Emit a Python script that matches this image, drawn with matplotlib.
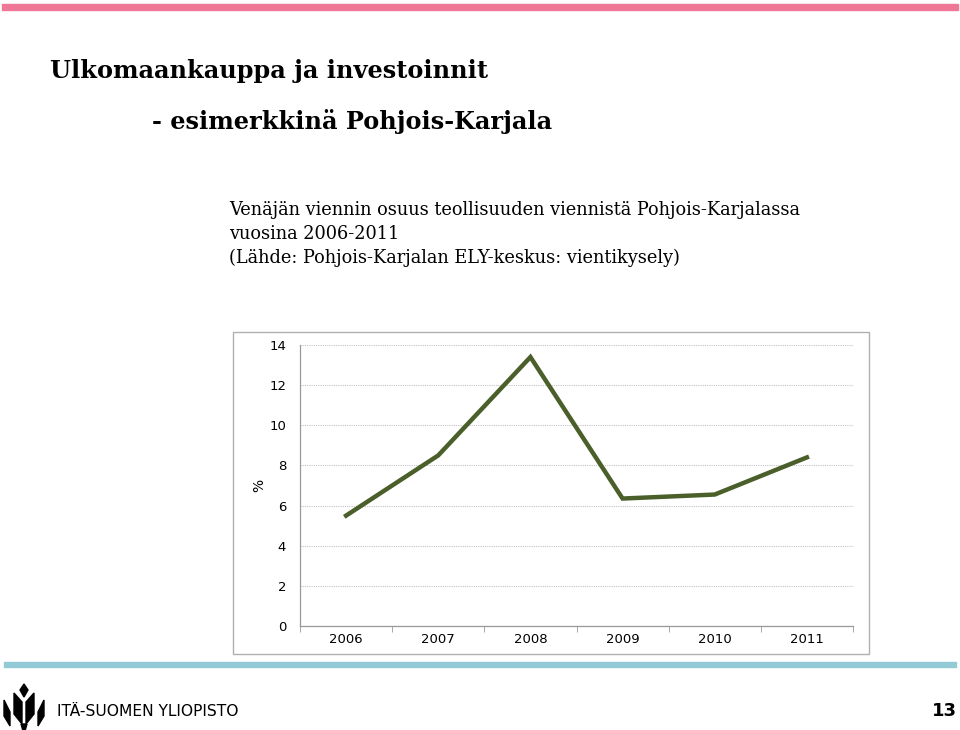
import matplotlib
matplotlib.use("Agg")
import matplotlib.pyplot as plt
import matplotlib.patches as mpatches

# ─── Data ──────────────────────────────────────────────────────────────────────

years = ["2006", "2007", "2008", "2009", "2010", "2011"]
share = [5.5, 8.5, 13.4, 6.35, 6.55, 8.4]
y_ticks = [0, 2, 4, 6, 8, 10, 12, 14]

title_1 = "Ulkomaankauppa ja investoinnit"
title_2 = "- esimerkkinä Pohjois-Karjala"
sub_lines = [
    "Venäjän viennin osuus teollisuuden viennistä Pohjois-Karjalassa",
    "vuosina 2006-2011",
    "(Lähde: Pohjois-Karjalan ELY-keskus: vientikysely)",
]

# ─── Figure ────────────────────────────────────────────────────────────────────

W, H = 960, 730
fig = plt.figure(figsize=(W / 100, H / 100), dpi=100)
fig.patch.set_facecolor("white")

def fx(px): return px / W
def fy(py): return 1 - py / H

# decorative bars
fig.patches.append(mpatches.Rectangle((fx(2), fy(10)), fx(956), 6 / H,
                                      transform=fig.transFigure, color="#ee7895", zorder=0))
fig.patches.append(mpatches.Rectangle((fx(4), fy(667)), fx(952), 5 / H,
                                      transform=fig.transFigure, color="#92cad6", zorder=0))

serif = ["DejaVu Serif"]
fig.text(fx(50), fy(71), title_1, family=serif, fontweight="bold", fontsize=17.3,
         va="center", ha="left", color="black")
fig.text(fx(152), fy(122), title_2, family=serif, fontweight="bold", fontsize=17.3,
         va="center", ha="left", color="black")
for i, line in enumerate(sub_lines):
    fig.text(fx(229), fy(210 + i * 24), line, family=serif, fontsize=12.8,
             va="center", ha="left", color="black")

# chart frame
fig.patches.append(mpatches.Rectangle((fx(233), fy(654)), fx(636), 322 / H,
                                      transform=fig.transFigure, facecolor="white",
                                      edgecolor="#b0b0b0", linewidth=1, zorder=0))

ax = fig.add_axes([fx(300), fy(626), fx(553), 281 / H])
ax.set_zorder(3)
ax.set_facecolor("none")
x = range(len(years))
ax.plot(x, share, color="#4b5f2b", linewidth=3.2, solid_joinstyle="miter")
ax.set_xlim(-0.5, len(years) - 0.5)
ax.set_ylim(0, 14)
ax.set_yticks(y_ticks)
ax.set_xticks(list(x))
ax.set_xticklabels(years)
ax.set_xticks([i - 0.5 for i in range(len(years) + 1)], minor=True)
ax.tick_params(axis="x", which="major", length=0, labelsize=9.5, pad=5)
ax.tick_params(axis="x", which="minor", length=4, color="#999999")
ax.tick_params(axis="y", length=0, labelsize=9.5, pad=10)
ax.grid(axis="y", linestyle=(0, (1, 1)), color="#c4c4c4", linewidth=0.8)
for s in ["top", "right"]:
    ax.spines[s].set_visible(False)
for s in ["left", "bottom"]:
    ax.spines[s].set_color("#999999")
    ax.spines[s].set_linewidth(0.9)
ax.set_ylabel("%", rotation=90, fontsize=10, labelpad=2)

# footer logo (simplified)
logo = [
    [(4, 700), (10, 712), (10, 726), (4, 716)],
    [(14, 693), (22, 702), (22, 724), (14, 714)],
    [(44, 700), (38, 712), (38, 726), (44, 716)],
    [(34, 693), (26, 702), (26, 724), (34, 714)],
    [(24, 684), (20, 690), (24, 697), (28, 690)],
    [(21, 724), (27, 724), (25, 731), (23, 731)],
]
for poly in logo:
    fig.patches.append(mpatches.Polygon([(fx(a), fy(b)) for a, b in poly], closed=True,
                                        transform=fig.transFigure, color="black"))
fig.text(fx(57), fy(712), "ITÄ-SUOMEN YLIOPISTO", family="DejaVu Sans",
         fontsize=11.2, va="center", ha="left", color="black")
fig.text(fx(957), fy(711), "13", fontsize=13, fontweight="bold", va="center", ha="right",
         family="DejaVu Sans")

fig.savefig("out.png", dpi=100)
